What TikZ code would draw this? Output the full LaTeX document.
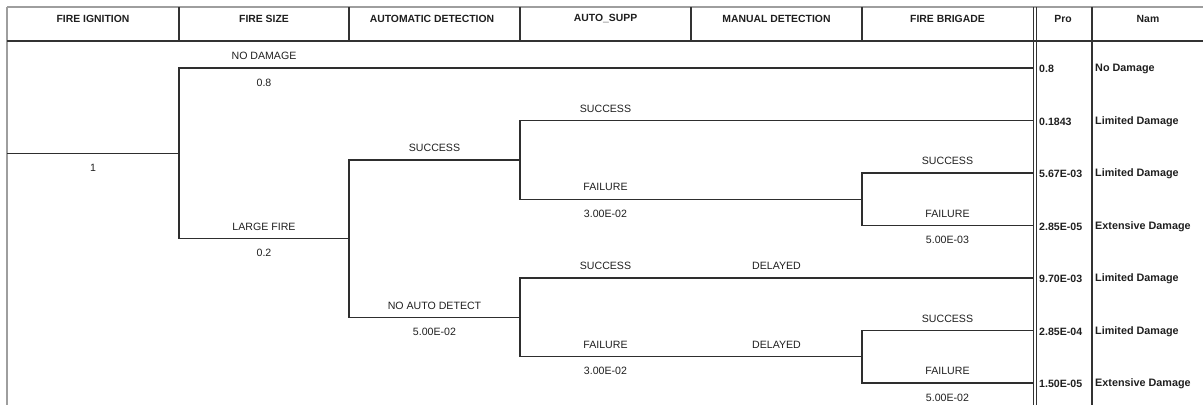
\documentclass[tikz,border=0pt]{standalone}
\usepackage{fontspec}
\setmainfont{Liberation Sans}
\begin{document}
\begin{tikzpicture}[x=1pt,y=-1pt,
  branch/.style={draw=black!82, line width=1.4pt},
  frame/.style={draw=black!38, line width=2.4pt},
  rule/.style={draw=black!80, line width=1.6pt},
  thinrule/.style={draw=black!80, line width=1.1pt},
  lbl/.style={inner sep=0pt, font=\fontsize{10.6}{12}\selectfont, text=black!88},
  head/.style={inner sep=0pt, font=\fontsize{10.4}{12}\selectfont\bfseries, text=black!88},
  prob/.style={anchor=west, inner sep=0pt, font=\fontsize{10.6}{12}\selectfont\bfseries, text=black!88},
  outc/.style={anchor=west, inner sep=0pt, font=\fontsize{10.8}{12}\selectfont\bfseries, text=black!88}]
\useasboundingbox (0,0) rectangle (1203,405);

% ---- table frame ----
\draw[frame] (7,7) -- (1203,7);
\draw[frame] (7,7) -- (7,405);
\draw[rule] (7,41) -- (1203,41);
\foreach \x in {179,349,520,691,862} \draw[rule] (\x,7) -- (\x,41);
\draw[thinrule] (1033.5,7) -- (1033.5,405);
\draw[thinrule] (1036.5,7) -- (1036.5,405);
\draw[rule] (1092,7) -- (1092,405);

% ---- column headings ----
\node[head] (h1) at (93,18.5) {FIRE IGNITION};
\node[head] (h2) at (264,18.5) {FIRE SIZE};
\node[head] (h3) at (432,18.5) {AUTOMATIC DETECTION};
\node[head] (h4) at (605.5,18.5) {AUTO\_SUPP};
\node[head] (h5) at (776.5,18.5) {MANUAL DETECTION};
\node[head] (h6) at (947.5,18.5) {FIRE BRIGADE};
\node[head] (h7) at (1063,18.5) {Pro};
\node[head] (h8) at (1148,18.5) {Nam};

% ---- branch points ----
\coordinate (r0) at (7,153.3);
\coordinate (fs) at (179,153.3);
\coordinate (ad) at (349,238.6);
\coordinate (as1) at (520,159.9);
\coordinate (as2) at (520,317.4);
\coordinate (fb1) at (862,199.25);
\coordinate (fb2) at (862,356.75);
% ---- sequence ends ----
\coordinate (e1) at (1033,68);
\coordinate (e2) at (1033,120.5);
\coordinate (e3) at (1033,173);
\coordinate (e4) at (1033,225.5);
\coordinate (e5) at (1033,278);
\coordinate (e6) at (1033,330.5);
\coordinate (e7) at (1033,383);

% ---- event tree ----
\draw[branch] (r0) -- (fs);
\draw[branch] (fs) |- (e1);
\draw[branch] (fs) |- (ad);
\draw[branch] (ad) |- (as1);
\draw[branch] (ad) |- (as2);
\draw[branch] (as1) |- (e2);
\draw[branch] (as1) |- (fb1);
\draw[branch] (fb1) |- (e3);
\draw[branch] (fb1) |- (e4);
\draw[branch] (as2) |- (e5);
\draw[branch] (as2) |- (fb2);
\draw[branch] (fb2) |- (e6);
\draw[branch] (fb2) |- (e7);

% ---- branch labels ----
\node[lbl] (l1) at (93,167.8) {1};
\node[lbl] (l2) at (264,56) {NO DAMAGE};
\node[lbl] (l3) at (264,82.5) {0.8};
\node[lbl] (l4) at (264,226.6) {LARGE FIRE};
\node[lbl] (l5) at (264,253) {0.2};
\node[lbl] (l6) at (434.5,148) {SUCCESS};
\node[lbl] (l7) at (434.5,305.4) {NO AUTO DETECT};
\node[lbl] (l8) at (434.5,332) {5.00E-02};
\node[lbl] (l9) at (605.5,108.5) {SUCCESS};
\node[lbl] (l10) at (605.5,187.3) {FAILURE};
\node[lbl] (l11) at (605.5,213.8) {3.00E-02};
\node[lbl] (l12) at (605.5,266) {SUCCESS};
\node[lbl] (l13) at (776.5,266) {DELAYED};
\node[lbl] (l14) at (605.5,344.8) {FAILURE};
\node[lbl] (l15) at (776.5,344.8) {DELAYED};
\node[lbl] (l16) at (605.5,371.3) {3.00E-02};
\node[lbl] (l17) at (947.5,161) {SUCCESS};
\node[lbl] (l18) at (947.5,213.5) {FAILURE};
\node[lbl] (l19) at (947.5,240) {5.00E-03};
\node[lbl] (l20) at (947.5,318.5) {SUCCESS};
\node[lbl] (l21) at (947.5,371) {FAILURE};
\node[lbl] (l22) at (947.5,397.5) {5.00E-02};

% ---- sequence probabilities and outcomes ----
\node[prob] (p1) at (1039,69) {0.8};
\node[prob] (p2) at (1039,121.5) {0.1843};
\node[prob] (p3) at (1039,174) {5.67E-03};
\node[prob] (p4) at (1039,226.5) {2.85E-05};
\node[prob] (p5) at (1039,279) {9.70E-03};
\node[prob] (p6) at (1039,331.5) {2.85E-04};
\node[prob] (p7) at (1039,384) {1.50E-05};
\node[outc] (o1) at (1095,69) {No Damage};
\node[outc] (o2) at (1095,121.5) {Limited Damage};
\node[outc] (o3) at (1095,174) {Limited Damage};
\node[outc] (o4) at (1095,226.5) {Extensive Damage};
\node[outc] (o5) at (1095,279) {Limited Damage};
\node[outc] (o6) at (1095,331.5) {Limited Damage};
\node[outc] (o7) at (1095,384) {Extensive Damage};
\end{tikzpicture}
\end{document}
